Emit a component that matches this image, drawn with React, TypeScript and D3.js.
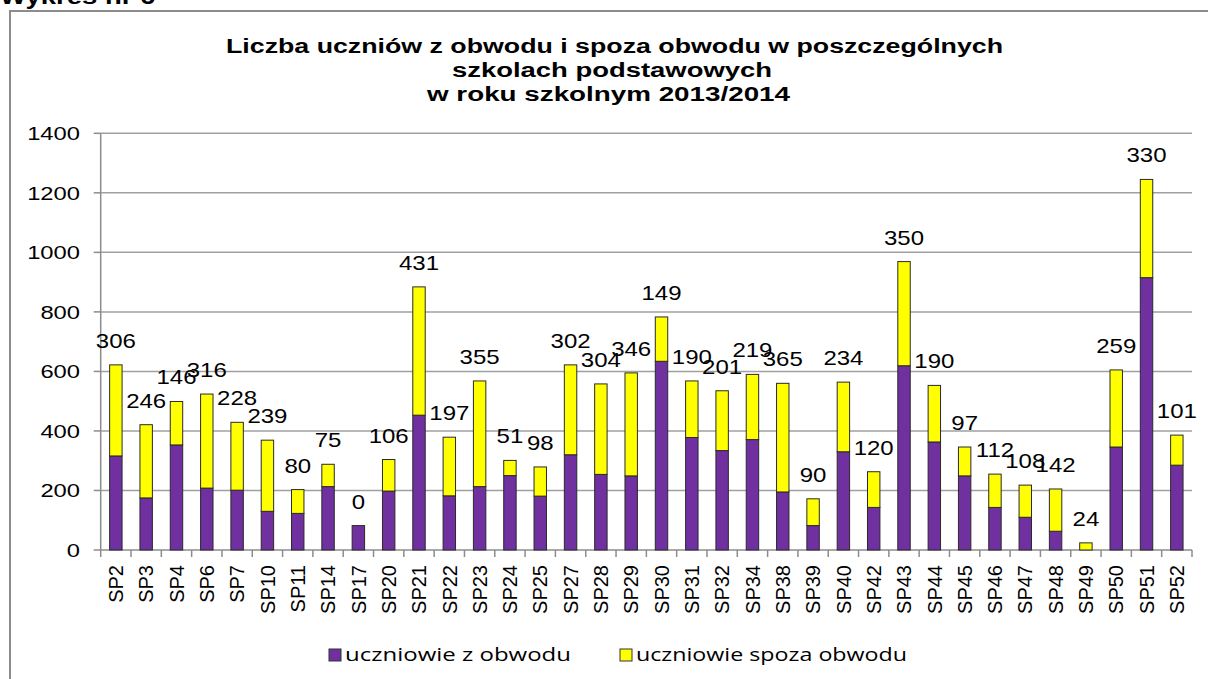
import React from "react";
import * as d3 from "d3";

const categories = ["SP2","SP3","SP4","SP6","SP7","SP10","SP11","SP14","SP17","SP20","SP21","SP22","SP23","SP24","SP25","SP27","SP28","SP29","SP30","SP31","SP32","SP34","SP38","SP39","SP40","SP42","SP43","SP44","SP45","SP46","SP47","SP48","SP49","SP50","SP51","SP52"];
const inDistrict = [316,175,353,208,201,130,123,213,82,198,453,182,213,250,181,320,254,249,634,378,334,371,195,82,330,143,619,363,249,143,110,63,0,346,915,285];
const outDistrict = [306,246,146,316,228,239,80,75,0,106,431,197,355,51,98,302,304,346,149,190,201,219,365,90,234,120,350,190,97,112,108,142,24,259,330,101];
const yTicks = [0,200,400,600,800,1000,1200,1400];
const titleLines = ["Liczba uczniów z obwodu i spoza obwodu w poszczególnych","szkolach podstawowych","w roku szkolnym 2013/2014"];
const seriesNames = ["uczniowie z obwodu","uczniowie spoza obwodu"];
const seriesColors = ["#7030A0","#FFFF00"];

const W = 1208, H = 679;
const plotL = 100.7, plotR = 1192, plotT = 133.3, plotB = 550;
const FONT = "'Liberation Sans', Arial, sans-serif";

export default function App() {
  const x = d3.scaleBand<string>().domain(categories).range([plotL, plotR]).paddingInner(0.59).paddingOuter(0.295);
  const y = d3.scaleLinear().domain([0, 1400]).range([plotB, plotT]);
  const step = x.step();
  const bw = x.bandwidth();

  const titleGeom = [
    { x: 226, y: 53, len: 777 },
    { x: 452, y: 77, len: 320 },
    { x: 427, y: 101, len: 363 },
  ];
  const legendGeom = [
    { x: 329, len: 226 },
    { x: 620, len: 271 },
  ];

  return (
    <svg width={W} height={H} style={{ position: "absolute", left: 0, top: 0, background: "#fff" }} fontFamily={FONT}>
      <rect x={0} y={0} width={W} height={H} fill="#fff" />
      <text transform="translate(0,4) scale(1.25,1)" fontSize={22} fontWeight="bold" fill="#000">Wykres nr 6</text>
      <rect x={10} y={11} width={1240} height={720} fill="#fff" stroke="#8c8c8c" strokeWidth={2} />

      {titleLines.map((t, i) => (
        <text key={i} x={titleGeom[i].x} y={titleGeom[i].y} fontSize={20} fontWeight="bold" fill="#000"
          textLength={titleGeom[i].len} lengthAdjust="spacingAndGlyphs">{t}</text>
      ))}

      {yTicks.filter(v => v > 0).map(v => (
        <line key={v} x1={plotL} x2={plotR} y1={y(v)} y2={y(v)} stroke="#a0a0a0" strokeWidth={1.5} />
      ))}
      {yTicks.map(v => (
        <g key={v}>
          <line x1={plotL - 7} x2={plotL} y1={y(v)} y2={y(v)} stroke="#8c8c8c" strokeWidth={1.5} />
          <text transform={`translate(80,${y(v)}) scale(1.25,1)`} textAnchor="end" dy="0.36em" fontSize={19} fill="#000">{v}</text>
        </g>
      ))}
      <line x1={plotL} x2={plotL} y1={plotT} y2={plotB} stroke="#8c8c8c" strokeWidth={1.5} />
      <line x1={plotL} x2={plotR} y1={plotB} y2={plotB} stroke="#8c8c8c" strokeWidth={1.5} />
      {d3.range(categories.length + 1).map(i => (
        <line key={i} x1={plotL + i * step} x2={plotL + i * step} y1={plotB} y2={plotB + 7} stroke="#8c8c8c" strokeWidth={1.5} />
      ))}

      {categories.map((c, i) => {
        const x0 = x(c)!;
        const a = inDistrict[i], b = outDistrict[i];
        const cx = x0 + bw / 2;
        return (
          <g key={c}>
            {a > 0 && <rect x={x0} y={y(a)} width={bw} height={y(0) - y(a)} fill={seriesColors[0]} stroke="#2a2a2a" strokeWidth={1} />}
            {b > 0 && <rect x={x0} y={y(a + b)} width={bw} height={y(a) - y(a + b)} fill={seriesColors[1]} stroke="#2a2a2a" strokeWidth={1} />}
            <text transform={`translate(${cx},${y(a + b) - 17}) scale(1.2,1)`} textAnchor="middle" fontSize={20} fill="#000">{b}</text>
            <text transform={`translate(${cx},565) rotate(-90)`} textAnchor="end" dy="0.36em" fontSize={20} fill="#000">{c}</text>
          </g>
        );
      })}

      {seriesNames.map((s, i) => {
        const g = legendGeom[i];
        return (
          <g key={s}>
            <rect x={g.x} y={649} width={12} height={12} fill={seriesColors[i]} stroke="#333" strokeWidth={1} />
            <text x={g.x + 16} y={661} fontSize={19} fontFamily="'Open Sans', sans-serif" fill="#000"
              textLength={g.len} lengthAdjust="spacingAndGlyphs">{s}</text>
          </g>
        );
      })}
    </svg>
  );
}
